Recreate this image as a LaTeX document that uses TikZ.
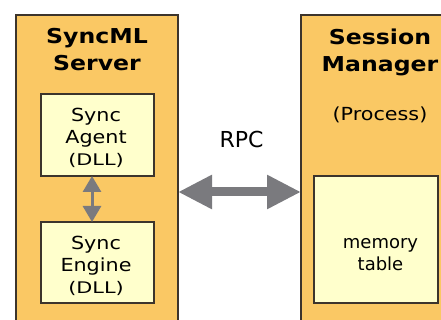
\documentclass[tikz,border=0pt]{standalone}
\usepackage{fontspec}
\setmainfont{DejaVu Sans}[FakeStretch=1.15]
\newfontfamily\rpcfont{DejaVu Sans}
\newfontfamily\plainfont{DejaVu Sans}
\newfontfamily\dllfont{DejaVu Sans}[FakeStretch=1.3]
\usetikzlibrary{arrows.meta}
\definecolor{procfill}{RGB}{250,200,100}
\definecolor{modfill}{RGB}{255,255,204}
\definecolor{edge}{RGB}{60,52,44}
\definecolor{pipe}{RGB}{122,122,126}
\tikzset{
  procbox/.style={draw=edge, line width=1.2pt, fill=procfill, anchor=north west, inner sep=0pt, outer sep=0pt},
  modbox/.style={draw=edge, line width=1.2pt, fill=modfill, anchor=north west, inner sep=0pt, outer sep=0pt},
  title/.style={anchor=north, inner sep=0pt, align=center, font=\bfseries\fontsize{20.5}{26.5}\selectfont},
  label/.style={anchor=north, inner sep=0pt, align=center, font=\fontsize{18}{22}\selectfont},
  rpc/.style={pipe, line width=9pt, {Triangle[length=34pt,width=32pt]}-{Triangle[length=34pt,width=32pt]}},
  link/.style={pipe, line width=3pt, {Triangle[length=16pt,width=18pt]}-{Triangle[length=16pt,width=18pt]}}
}
\begin{document}
\begin{tikzpicture}[x=1pt,y=-1pt]
\useasboundingbox (0,0) rectangle (441,320);
\clip (0,0) rectangle (441,320);
\fill[white] (0,0) rectangle (441,320);

% the two processes
\node[procbox, minimum width=162, minimum height=320] (server) at (16,15) {};
\node[procbox, minimum width=170, minimum height=320] (manager) at (301,15) {};

% modules inside them
\node[modbox, minimum width=113, minimum height=82] (agent) at (41,94) {};
\node[modbox, minimum width=113, minimum height=81] (engine) at (41,222) {};
\node[modbox, minimum width=124, minimum height=127] (memtab) at (314,176) {};

% texts
\node[title] (servertitle) at (97,28.5) {SyncML\\Server};
\node[title] (managertitle) at (380,29) {Session\\Manager};
\node[label] (process) at (380,106.5) {(Process)};
\node[label] (agenttext) at (96,107.5) {Sync\\Agent\\[0.5pt]\dllfont\fontsize{16}{18}\selectfont(DLL)};
\node[label] (enginetext) at (96,235.5) {Sync\\Engine\\[0.5pt]\dllfont\fontsize{16}{18}\selectfont(DLL)};
\node[label, font=\plainfont\fontsize{18}{22}\selectfont] (memtext) at (380.5,238) {memory\\table};
\node[anchor=base, inner sep=0pt, font=\rpcfont\fontsize{22}{26}\selectfont] (rpclabel) at (241.5,148) {RPC};

% connectors
\draw[rpc] (server.east |- 0,192) -- (manager.west |- 0,192);
\draw[link] (agent.south -| 92,0) -- (engine.north -| 92,0);
\end{tikzpicture}
\end{document}
